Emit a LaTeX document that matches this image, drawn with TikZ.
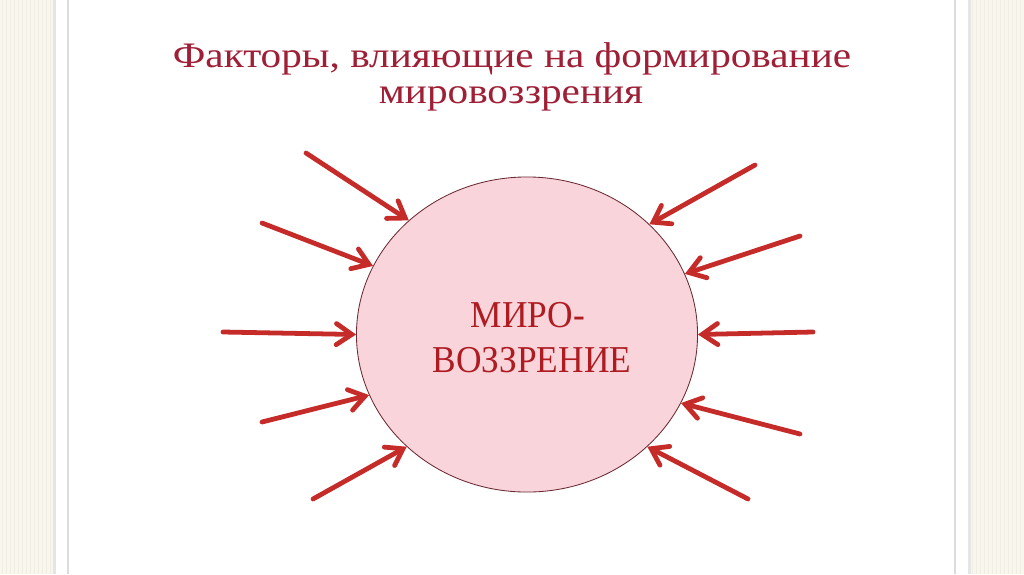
\documentclass[tikz,border=0pt]{standalone}
\usepackage{fontspec}
\setmainfont{Liberation Serif}
\newfontfamily\headfont[FakeStretch=1.15]{Liberation Serif}
\newfontfamily\wordfont[FakeStretch=0.93]{Liberation Serif}
\usetikzlibrary{arrows.meta,shapes.geometric}
\definecolor{titlered}{HTML}{9E1F36}
\definecolor{arrowred}{HTML}{C52B28}
\definecolor{wordred}{HTML}{AE1C22}
\definecolor{pinkfill}{HTML}{F9D4DA}
\definecolor{rimred}{HTML}{6A2A33}
\definecolor{cream}{HTML}{F8F6EE}
\definecolor{creamline}{HTML}{F0EDE2}
\definecolor{slideline}{HTML}{DCDCDC}
\begin{document}
\begin{tikzpicture}[x=0.025cm,y=-0.025cm]
    \tikzset{
        factor/.style={draw=arrowred,line width=3.4pt,line cap=round,
            -{Straight Barb[length=11pt,width=15pt,line cap=round]}},
        heading/.style={text=titlered,font=\headfont\fontsize{25.5}{27}\selectfont,inner sep=0pt,anchor=base},
        inside/.style={text=wordred,font=\wordfont\fontsize{27}{30}\selectfont,inner sep=0pt,anchor=base}
    }
    \useasboundingbox (0,0) rectangle (1024,574);
    % background and slide
    \fill[cream] (0,0) rectangle (1024,574);
    \foreach \s in {2,6,...,54} {
        \draw[creamline,line width=0.6pt] (\s,0) -- (\s,574);
        \draw[creamline,line width=0.6pt] (\s+970,0) -- (\s+970,574);
    }
    \fill[black!10] (53,0) rectangle (971,574);
    \fill[white] (56,0) rectangle (968,574);
    \draw[slideline,line width=0.8pt] (68,0) -- (68,574);
    \draw[slideline,line width=0.8pt] (955,0) -- (955,574);
    % title
    \node[heading] (title) at (512,67) {Факторы, влияющие на формирование};
    \node[heading] (title2) at (511,103) {мировоззрения};
    % circle
    \node[ellipse,draw=rimred,line width=0.6pt,fill=pinkfill,inner sep=0pt,
        minimum width=8.525cm,minimum height=7.875cm] (mv) at (527,334.5) {};
    \node[inside] (word) at (528,327) {МИРО-};
    \node[inside] (word2) at (532,372) {ВОЗЗРЕНИЕ};
    % left arrows
    \coordinate (l1) at (306,153);
    \coordinate (l2) at (262,223);
    \coordinate (l3) at (223,332);
    \coordinate (l4) at (262,422);
    \coordinate (l5) at (313,499);
    \draw[factor] (l1) -- (mv.136.8);
    \draw[factor] (l2) -- (mv.156.9);
    \draw[factor] (l3) -- (mv.180);
    \draw[factor] (l4) -- (mv.201.4);
    \draw[factor] (l5) -- (mv.223.2);
    % right arrows
    \coordinate (r1) at (755,165);
    \coordinate (r2) at (800,236);
    \coordinate (r3) at (813,332);
    \coordinate (r4) at (800,434);
    \coordinate (r5) at (748,499);
    \draw[factor] (r1) -- (mv.42.7);
    \draw[factor] (r2) -- (mv.21);
    \draw[factor] (r3) -- (mv.0);
    \draw[factor] (r4) -- (mv.336.8);
    \draw[factor] (r5) -- (mv.317.3);
\end{tikzpicture}
\end{document}
